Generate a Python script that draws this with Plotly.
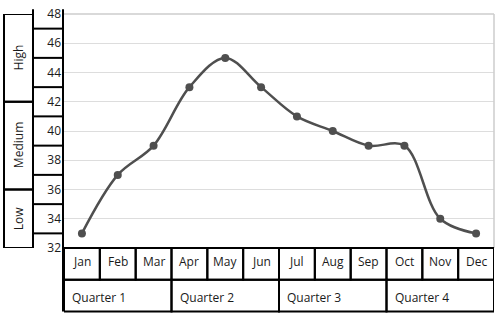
import plotly.graph_objects as go

months = ["Jan", "Feb", "Mar", "Apr", "May", "Jun", "Jul", "Aug", "Sep", "Oct", "Nov", "Dec"]
values = [33, 37, 39, 43, 45, 43, 41, 40, 39, 39, 34, 33]
quarters = ["Quarter 1", "Quarter 2", "Quarter 3", "Quarter 4"]
y_levels = ["Low", "Medium", "High"]
y_level_ranges = [(32, 36), (36, 42), (42, 48)]
y_ticks = [32, 34, 36, 38, 40, 42, 44, 46, 48]

W, H = 500, 318
L, R, T, B = 64, 6, 5, 70
pw, ph = W - L - R, H - T - B
bottom_px = T + ph


def px_x(p):
    return (p - L) / pw


def px_y(p):
    return (bottom_px - p) / ph


FONT = "Open Sans"
BLACK = "#000000"
TXT = "#1a1a1a"
fig = go.Figure()
fig.add_trace(go.Scatter(
    x=months, y=values, mode="lines+markers",
    line=dict(color="#4f4f4f", width=2.5, shape="spline", smoothing=1),
    marker=dict(color="#4f4f4f", size=8),
    hoverinfo="x+y",
))

shapes = []
lw = 2
# plot border (top and right) in light grey
shapes.append(dict(type="line", xref="paper", yref="paper", x0=0, x1=1, y0=1, y1=1,
                   line=dict(color="#cccccc", width=1.5)))
shapes.append(dict(type="line", xref="paper", yref="paper", x0=1, x1=1, y0=0, y1=1,
                   line=dict(color="#cccccc", width=1.5)))
# y-axis line (extends down through category boxes)
shapes.append(dict(type="line", xref="paper", yref="paper", x0=px_x(63), x1=px_x(63),
                   y0=px_y(314), y1=px_y(0), line=dict(color=BLACK, width=lw)))
# left tick-label column border
shapes.append(dict(type="line", xref="paper", yref="paper", x0=px_x(33), x1=px_x(33),
                   y0=px_y(247), y1=px_y(0), line=dict(color=BLACK, width=lw)))
# tick label box separators at mid-points
for v in y_ticks[:-1]:
    m = v + 1
    shapes.append(dict(type="line", xref="paper", yref="y", x0=px_x(33), x1=px_x(63),
                       y0=m, y1=m, line=dict(color=BLACK, width=lw)))
# outer level boxes
for (a, b) in y_level_ranges:
    shapes.append(dict(type="rect", xref="paper", yref="y", x0=px_x(4), x1=px_x(33),
                       y0=a, y1=b, line=dict(color=BLACK, width=lw)))
# month boxes
for i, m in enumerate(months):
    shapes.append(dict(type="rect", xref="x", yref="paper", x0=i - 0.5, x1=i + 0.5,
                       y0=px_y(281), y1=0, line=dict(color=BLACK, width=lw)))
# quarter boxes
for q, name in enumerate(quarters):
    shapes.append(dict(type="rect", xref="x", yref="paper", x0=3 * q - 0.5, x1=3 * q + 2.5,
                       y0=px_y(314), y1=px_y(281), line=dict(color=BLACK, width=lw)))

annotations = []
for m in months:
    annotations.append(dict(x=m, y=px_y(262), xref="x", yref="paper", text=m,
                            showarrow=False, xanchor="center", yanchor="middle",
                            font=dict(family=FONT, size=12, color=TXT)))
for q, name in enumerate(quarters):
    annotations.append(dict(x=3 * q - 0.5, y=px_y(299), xref="x", yref="paper", text=name,
                            showarrow=False, xanchor="left", yanchor="middle", xshift=6,
                            font=dict(family=FONT, size=12, color=TXT)))
for name, (a, b) in zip(y_levels, y_level_ranges):
    annotations.append(dict(x=px_x(18.5), y=(a + b) / 2, xref="paper", yref="y", text=name,
                            showarrow=False, textangle=-90, xanchor="center", yanchor="middle",
                            font=dict(family=FONT, size=12, color=TXT)))

fig.update_layout(
    width=W, height=H, autosize=False,
    margin=dict(l=L, r=R, t=T, b=B),
    paper_bgcolor="white", plot_bgcolor="white",
    showlegend=False,
    shapes=shapes, annotations=annotations,
    xaxis=dict(type="category", range=[-0.5, 11.5], showticklabels=False, showgrid=False,
               zeroline=False, showline=False, ticks=""),
    yaxis=dict(range=[32, 48], tickvals=y_ticks, showgrid=True, gridcolor="#dddddd",
               gridwidth=1, zeroline=False, showline=False, ticks="",
               ticklabelstandoff=2, ticklabeloverflow="allow",
               tickfont=dict(family=FONT, size=12, color=TXT)),
)
fig.write_html("out.html")
